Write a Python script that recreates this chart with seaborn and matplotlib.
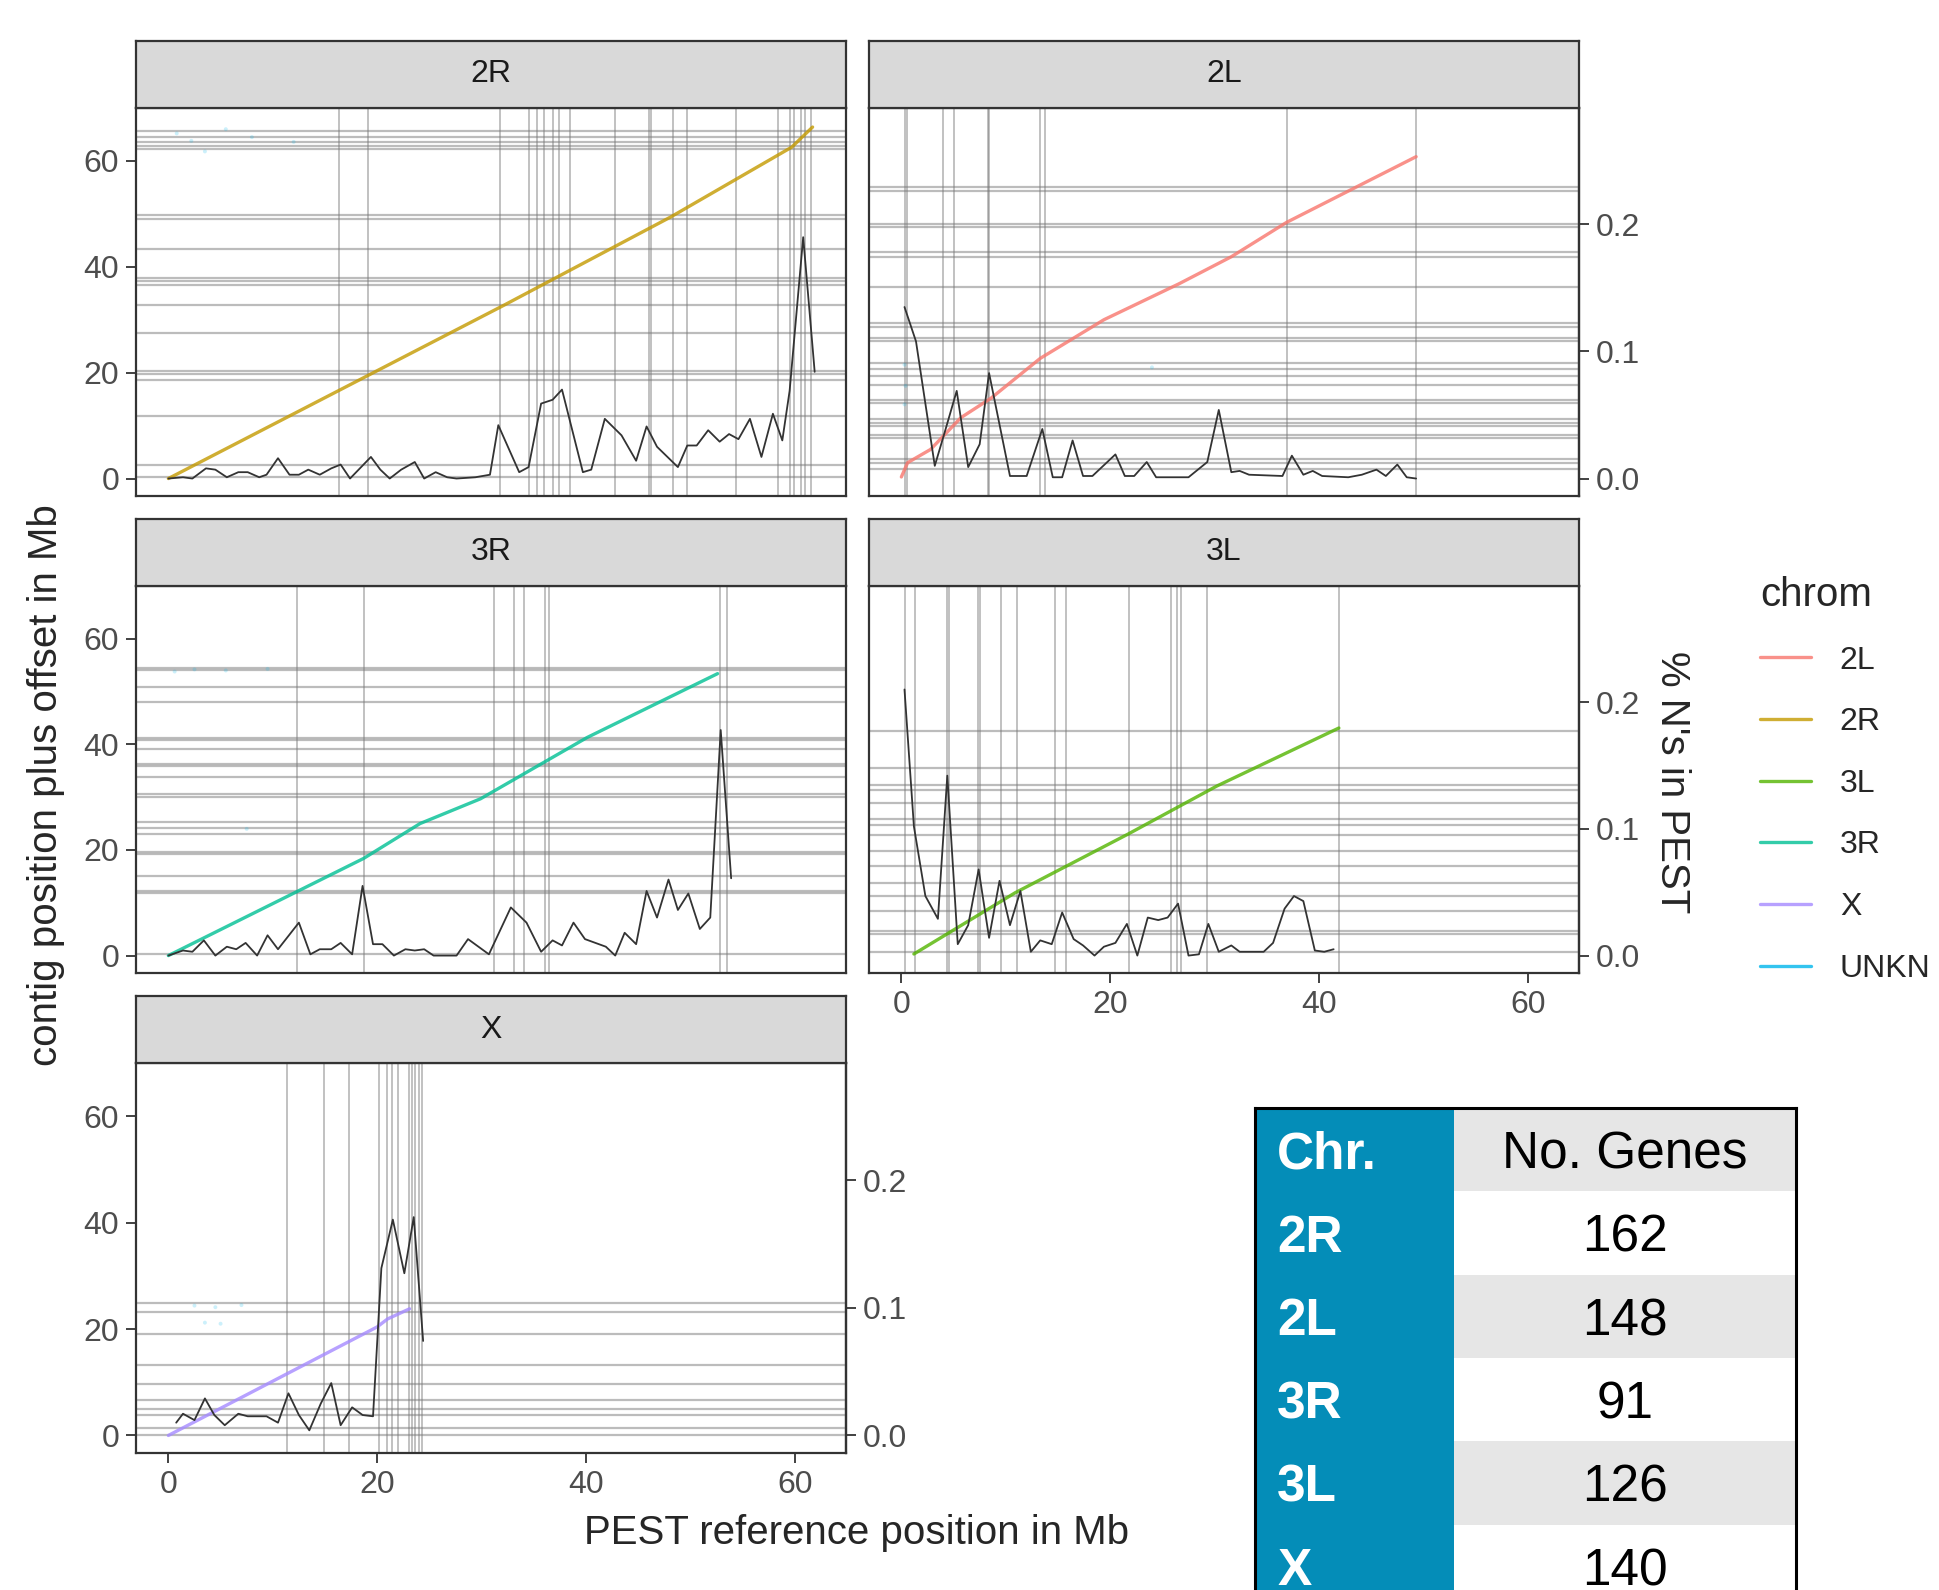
import numpy as np
import matplotlib
matplotlib.use("Agg")
import matplotlib.pyplot as plt
import seaborn as sns
from matplotlib.lines import Line2D

# ===============================
# Colours / scales
# ===============================
chrom_order = ["2L", "2R", "3L", "3R", "X", "UNKN"]
chrom_colors = {
    "2L": "#F8766D",
    "2R": "#C49A00",
    "3L": "#53B400",
    "3R": "#00C094",
    "X": "#A58AFF",
    "UNKN": "#00B6EB",
}
SEC_SCALE = 240  # 0.1 % N  <->  24 Mb on the left axis

# ===============================
# 2R
# ===============================
pos_2R = [0.0, 16.1, 32.1, 48.1, 59.7, 61.7]
contig_2R = [0.0, 16.4, 32.7, 49.4, 62.6, 66.4]
bin_2R = [0.0, 1.4, 2.3, 3.6, 4.5, 5.6, 6.7, 7.6, 8.7, 9.4, 10.5, 11.6, 12.5, 13.4, 14.5,
          15.6, 16.5, 17.4, 19.4, 20.3, 21.2, 22.3, 23.6, 24.5, 25.6, 26.7, 27.6, 29.4, 30.8, 31.6,
          33.6, 34.5, 35.7, 36.8, 37.7, 39.7, 40.5, 41.8, 43.4, 44.8, 45.8, 46.8, 48.8, 49.7, 50.6,
          51.7, 52.8, 53.7, 54.6, 55.7, 56.8, 57.9, 58.8, 59.5, 60.8, 61.9]
nfrac_2R = [0, .001, 0, .008, .007, .001, .005, .005, .001, .003, .016, .003, .003, .007, .003,
            .008, .011, 0, .017, .007, 0, .007, .013, 0, .005, .001, 0, .001, .003, .042,
            .005, .009, .059, .062, .070, .005, .007, .047, .034, .014, .041, .025, .009, .026, .026,
            .038, .029, .035, .031, .047, .017, .051, .030, .069, .190, .084]
vlines_2R = [16.3, 19.1, 31.8, 34.5, 35.3, 36.0, 36.8, 37.4, 38.5, 42.8, 46.0, 46.2, 48.3, 49.7,
             54.4, 58.4, 59.5, 59.9, 60.6, 61.0, 61.5]
hlines_2R = [65.7, 64.6, 63.5, 62.9, 62.3, 49.7, 49.1, 43.4, 37.9, 37.3, 36.5, 32.7, 27.4,
             20.4, 19.8, 18.6, 11.9, 2.5, 0.3]
unkn_x_2R = [0.8, 2.2, 5.5, 8.0, 12.0, 3.5]
unkn_y_2R = [65.2, 63.8, 66.0, 64.5, 63.6, 61.8]

# ===============================
# 2L
# ===============================
pos_2L = [0.0, 0.6, 2.8, 5.7, 8.6, 13.3, 19.4, 26.6, 31.6, 36.9, 49.3]
contig_2L = [0.3, 3.0, 5.5, 11.5, 15.2, 22.7, 30.0, 36.8, 41.9, 48.4, 60.8]
bin_2L = [0.3, 1.4, 3.2, 4.1, 5.3, 6.4, 7.5, 8.4, 10.4, 12.0, 13.5, 14.5, 15.4, 16.4, 17.4,
          18.3, 20.5, 21.4, 22.3, 23.5, 24.4, 27.5, 29.3, 30.4, 31.6, 32.4, 33.3, 36.5, 37.4, 38.5,
          39.4, 40.3, 42.8, 44.1, 45.5, 46.4, 47.5, 48.4, 49.3]
nfrac_2L = [.135, .108, .010, .035, .069, .009, .027, .083, .002, .002, .039, .001, .001, .030, .002,
            .002, .019, .002, .002, .013, .001, .001, .013, .054, .005, .006, .003, .002, .018, .003,
            .006, .002, .001, .003, .007, .002, .011, .001, 0]
vlines_2L = [0.3, 0.5, 4.0, 5.0, 8.3, 8.4, 13.3, 13.8, 36.9, 49.3]
hlines_2L = [55.0, 54.4, 48.1, 47.5, 42.8, 41.9, 36.2, 29.3, 28.7, 26.5, 25.9, 21.8, 20.6, 19.3,
             17.7, 14.9, 14.3, 11.2, 10.5, 9.9, 8.3, 7.7, 3.6, 3.0, 1.8]
unkn_x_2L = [0.3, 0.4, 0.3, 24.0]
unkn_y_2L = [21.5, 17.5, 14.0, 21.0]

# ===============================
# 3R
# ===============================
pos_3R = [0.0, 18.7, 24.1, 29.9, 40.1, 52.6]
contig_3R = [0.0, 18.4, 25.0, 29.7, 41.3, 53.4]
bin_3R = [0.0, 1.4, 2.3, 3.4, 4.5, 5.6, 6.5, 7.4, 8.5, 9.5, 10.5, 12.5, 13.6, 14.5, 15.6,
          16.5, 17.6, 18.6, 19.6, 20.5, 21.6, 22.7, 23.6, 24.5, 25.4, 27.6, 28.7, 30.7, 32.8, 34.3,
          35.7, 36.8, 37.7, 38.8, 39.9, 41.9, 42.8, 43.7, 44.8, 45.8, 46.8, 47.9, 48.8, 49.8, 50.9,
          51.9, 52.9, 53.9]
nfrac_3R = [0, .004, .003, .012, 0, .007, .005, .010, 0, .016, .005, .026, .001, .005, .005,
            .010, .001, .055, .009, .009, 0, .005, .004, .005, 0, 0, .013, .001, .038, .026,
            .003, .012, .008, .026, .013, .007, 0, .018, .009, .051, .030, .060, .036, .049, .021,
            .030, .178, .061]
vlines_3R = [12.3, 18.7, 31.2, 33.1, 34.1, 36.1, 36.5, 52.8, 53.5]
hlines_3R = [54.4, 54.1, 50.9, 48.0, 41.25, 40.75, 39.1, 36.25, 35.9, 33.75, 30.6, 30.1, 25.3,
             24.1, 23.1, 19.7, 19.25, 15.0, 12.2, 11.9, 0.3]
unkn_x_3R = [0.6, 2.5, 5.5, 9.5, 7.5]
unkn_y_3R = [53.8, 54.2, 54.0, 54.3, 24.0]

# ===============================
# 3L
# ===============================
pos_3L = [1.2, 10.9, 21.7, 30.2, 41.9]
contig_3L = [0.3, 11.9, 23.0, 32.1, 43.1]
bin_3L = [0.3, 1.2, 2.3, 3.5, 4.4, 5.4, 6.4, 7.4, 8.4, 9.4, 10.4, 11.4, 12.4, 13.3, 14.4,
          15.4, 16.5, 17.4, 18.5, 19.4, 20.5, 21.6, 22.6, 23.6, 24.6, 25.5, 26.5, 27.5, 28.5, 29.4,
          30.4, 31.6, 32.4, 34.7, 35.6, 36.7, 37.6, 38.5, 39.6, 40.5, 41.4]
nfrac_3L = [.210, .102, .047, .029, .142, .009, .024, .068, .014, .059, .024, .051, .003, .012, .009,
            .034, .013, .008, 0, .007, .010, .025, 0, .030, .028, .030, .041, 0, .001, .025,
            .003, .008, .003, .003, .010, .037, .047, .043, .004, .003, .005]
vlines_3L = [0.3, 1.3, 4.4, 4.6, 7.3, 7.5, 9.5, 11.1, 14.7, 15.8, 21.8, 25.8, 26.4, 26.8, 29.3, 41.9]
hlines_3L = [42.5, 35.5, 32.4, 31.4, 28.9, 25.8, 24.8, 22.8, 19.8, 17.0, 13.8, 11.3, 8.5, 4.7,
             4.1, 0.6]
unkn_x_3L = []
unkn_y_3L = []

# ===============================
# X
# ===============================
pos_X = [0.0, 20.0, 21.0, 23.1]
contig_X = [0.0, 20.4, 21.9, 23.8]
bin_X = [0.75, 1.4, 2.5, 3.5, 4.4, 5.4, 6.7, 7.6, 9.4, 10.5, 11.5, 12.5, 13.5, 14.6, 15.6,
         16.5, 17.6, 18.6, 19.6, 20.4, 21.5, 22.6, 23.5, 24.4]
nfrac_X = [.010, .017, .012, .029, .016, .008, .017, .015, .015, .010, .033, .016, .004, .025, .041,
           .008, .022, .016, .015, .131, .169, .127, .171, .074]
vlines_X = [11.4, 14.9, 17.3, 20.2, 20.9, 21.4, 22.0, 23.0, 23.3, 23.6, 24.0, 24.3]
hlines_X = [24.8, 23.2, 19.1, 13.2, 9.6, 6.7, 5.0, 3.8, 1.4, 0.0]
unkn_x_X = [2.5, 4.5, 7.0, 3.5, 5.0]
unkn_y_X = [24.4, 24.1, 24.5, 21.2, 21.0]

# ===============================
# Table
# ===============================
table_chr = ["2R", "2L", "3R", "3L", "X"]
table_genes = [162, 148, 91, 126, 140]

panels = {
    "2R": (pos_2R, contig_2R, bin_2R, nfrac_2R, vlines_2R, hlines_2R, unkn_x_2R, unkn_y_2R),
    "2L": (pos_2L, contig_2L, bin_2L, nfrac_2L, vlines_2L, hlines_2L, unkn_x_2L, unkn_y_2L),
    "3R": (pos_3R, contig_3R, bin_3R, nfrac_3R, vlines_3R, hlines_3R, unkn_x_3R, unkn_y_3R),
    "3L": (pos_3L, contig_3L, bin_3L, nfrac_3L, vlines_3L, hlines_3L, unkn_x_3L, unkn_y_3L),
    "X": (pos_X, contig_X, bin_X, nfrac_X, vlines_X, hlines_X, unkn_x_X, unkn_y_X),
}
# (row, col) in the facet grid
grid_pos = {"2R": (0, 0), "2L": (0, 1), "3R": (1, 0), "3L": (1, 1), "X": (2, 0)}

sns.set_theme(style="white")
plt.rcParams["font.family"] = ["Liberation Sans", "DejaVu Sans"]

W, H = 1939, 1590
fig = plt.figure(figsize=(W / 100, H / 100), dpi=100)


def px_axes(x0, y0, x1, y1):
    return fig.add_axes([x0 / W, 1 - y1 / H, (x1 - x0) / W, (y1 - y0) / H])


col_left = [136, 869]
col_w = 710
row_span = [(108, 496), (586, 973), (1063, 1453)]
strip_h = 67
TICK_FS = 23
BORDER = "#333333"
TICK_TXT = "#4D4D4D"

for name, (pos, contig, bx, bn, vl, hl, ux, uy) in panels.items():
    r, c = grid_pos[name]
    x0 = col_left[c]
    y0, y1 = row_span[r]
    ax = px_axes(x0, y0, x0 + col_w, y1)

    for v in vl:
        ax.axvline(v, color="#6F6F6F", lw=1.1, alpha=0.55, zorder=1)
    for h in hl:
        ax.axhline(h, color="#7A7A7A", lw=1.6, alpha=0.5, zorder=1)

    if ux:
        sns.scatterplot(x=ux, y=uy, color=chrom_colors["UNKN"], s=8, alpha=0.2,
                        edgecolor="none", ax=ax, zorder=2)
    sns.lineplot(x=pos, y=contig, color=chrom_colors[name], lw=2.4, alpha=0.8,
                 estimator=None, sort=False, ax=ax, zorder=3)
    sns.lineplot(x=bx, y=np.array(bn) * SEC_SCALE, color="#333333", lw=1.3,
                 estimator=None, sort=False, ax=ax, zorder=4)

    ax.set_xlim(-3.1, 64.9)
    ax.set_ylim(-3.3, 70.0)
    ax.set_xticks([0, 20, 40, 60])
    ax.set_yticks([0, 20, 40, 60])
    ax.set_xlabel("")
    ax.set_ylabel("")
    ax.grid(False)
    for sp in ax.spines.values():
        sp.set_color(BORDER)
        sp.set_linewidth(1.6)

    show_left = c == 0
    show_bottom = name in ("3L", "X")
    show_right = name in ("2L", "3L", "X")
    ax.tick_params(axis="both", direction="out", length=7, width=1.3, color=BORDER,
                   labelsize=TICK_FS, labelcolor=TICK_TXT, pad=5,
                   left=show_left, labelleft=show_left,
                   bottom=show_bottom, labelbottom=show_bottom)

    if show_right:
        sec = ax.secondary_yaxis("right", functions=(lambda y: y / SEC_SCALE,
                                                     lambda p: p * SEC_SCALE))
        sec.set_yticks([0.0, 0.1, 0.2])
        sec.set_yticklabels(["0.0", "0.1", "0.2"])
        sec.tick_params(direction="out", length=7, width=1.3, color=BORDER,
                        labelsize=TICK_FS, labelcolor=TICK_TXT, pad=5)
        sec.spines["right"].set_color(BORDER)
        sec.spines["right"].set_linewidth(1.6)

    # facet strip
    ax_s = px_axes(x0, y0 - strip_h, x0 + col_w, y0)
    ax_s.set_facecolor("#D9D9D9")
    ax_s.set_xticks([])
    ax_s.set_yticks([])
    for sp in ax_s.spines.values():
        sp.set_color(BORDER)
        sp.set_linewidth(1.6)
    ax_s.text(0.5, 0.5, name, transform=ax_s.transAxes, ha="center", va="center",
              fontsize=TICK_FS, color="#1A1A1A")

# ===============================
# Axis titles
# ===============================
fig.text(46 / W, 1 - 785 / H, "contig position plus offset in Mb", rotation=90,
         ha="center", va="center", fontsize=29)
fig.text(1672 / W, 1 - 782 / H, "% N's in PEST", rotation=270,
         ha="center", va="center", fontsize=29)
fig.text(857 / W, 1 - 1533 / H, "PEST reference position in Mb",
         ha="center", va="center", fontsize=29)

# ===============================
# Legend
# ===============================
handles = [Line2D([], [], color=chrom_colors[k], lw=2.4, alpha=0.8) for k in chrom_order]
fig.legend(handles, chrom_order, title="chrom", loc="upper left",
           bbox_to_anchor=(1760 / W, 1 - 576 / H), frameon=False,
           fontsize=TICK_FS, title_fontsize=29, handlelength=1.6, handletextpad=0.9,
           labelspacing=0.99, borderpad=0, borderaxespad=0, alignment="left")

# ===============================
# Gene count table
# ===============================
row_h = 83.3
ax_t = px_axes(1255, 1108, 1796, 1108 + row_h * 6)
ax_t.set_xlim(0, 1)
ax_t.set_ylim(6, 0)
split = 199 / 541
teal = "#048DB8"
light = "#E6E6E6"
ax_t.axhspan(0, 1, xmin=split, xmax=1, color=light, lw=0)
for i, (ch, g) in enumerate(zip(table_chr, table_genes)):
    fill = light if i % 2 == 1 else "white"
    ax_t.axhspan(i + 1, i + 2, xmin=split, xmax=1, color=fill, lw=0)
ax_t.axvspan(0, split, color=teal, lw=0)
TAB_FS = 37
ax_t.text(0.041, 0.5, "Chr.", ha="left", va="center_baseline", fontsize=TAB_FS,
          fontweight="bold", color="white")
ax_t.text((split + 1) / 2, 0.5, "No. Genes", ha="center", va="center_baseline",
          fontsize=TAB_FS, color="black")
for i, (ch, g) in enumerate(zip(table_chr, table_genes)):
    ax_t.text(0.041, i + 1.5, ch, ha="left", va="center_baseline", fontsize=TAB_FS,
              fontweight="bold", color="white")
    ax_t.text((split + 1) / 2, i + 1.5, str(g), ha="center", va="center_baseline",
              fontsize=TAB_FS, color="black")
ax_t.set_xticks([])
ax_t.set_yticks([])
for sp in ax_t.spines.values():
    sp.set_color("black")
    sp.set_linewidth(2.2)

fig.savefig("out.png", dpi=100)
